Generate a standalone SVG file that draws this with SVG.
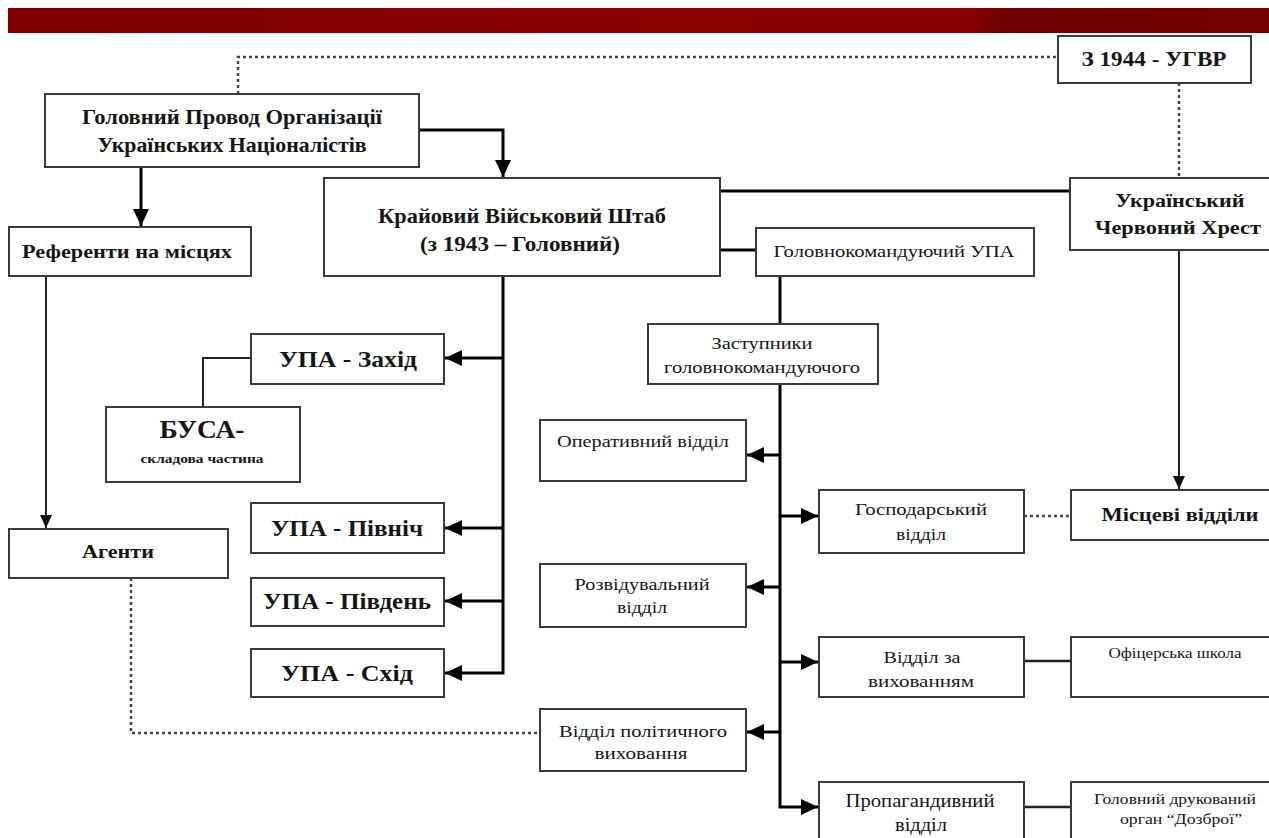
<svg xmlns="http://www.w3.org/2000/svg" width="1269" height="838" viewBox="0 0 1269 838">
<defs>
<linearGradient id="bar" x1="0" y1="0" x2="1" y2="0">
<stop offset="0" stop-color="#7c0000"/>
<stop offset="0.55" stop-color="#8a0101"/>
<stop offset="0.76" stop-color="#880000"/>
<stop offset="0.79" stop-color="#6c0000"/>
<stop offset="1" stop-color="#760000"/>
</linearGradient>
<marker id="ah" markerUnits="userSpaceOnUse" markerWidth="18" markerHeight="16" refX="17" refY="8" orient="auto">
<path d="M0,0 L17,8 L0,16 z" fill="#000"/>
</marker>
<marker id="ahs" markerUnits="userSpaceOnUse" markerWidth="14" markerHeight="12" refX="13" refY="6" orient="auto">
<path d="M0,0 L13,6 L0,12 z" fill="#111"/>
</marker>
<style>
.box{fill:#fff;stroke:#3a3a3a;stroke-width:2}
.t{font-family:"Liberation Serif","Times New Roman",serif;fill:#161616;text-anchor:middle}
.b{font-weight:bold}
.thick{fill:none;stroke:#000;stroke-width:3}
.thin{fill:none;stroke:#222;stroke-width:2}
.dot{fill:none;stroke:#444;stroke-width:2.5;stroke-dasharray:3 3}
</style>
</defs>
<rect x="0" y="0" width="1269" height="838" fill="#fff"/>
<rect x="8" y="8" width="1261" height="25" fill="url(#bar)"/>

<g id="connectors">
<path class="dot" d="M238,94 V57 H1058"/>
<path class="dot" d="M1179,83 V178"/>
<path class="thick" d="M419,130 H503 V177" marker-end="url(#ah)"/>
<path class="thick" d="M141,167 V226" marker-end="url(#ah)"/>
<path class="thin" d="M46,276 V528" marker-end="url(#ahs)"/>
<path class="dot" d="M131,578 V733 H540"/>
<path class="thick" d="M720,191 H1070"/>
<path class="thick" d="M720,250 H756"/>
<path class="thick" d="M503,276 V673 H445" marker-end="url(#ah)"/>
<path class="thick" d="M503,358 H445" marker-end="url(#ah)"/>
<path class="thick" d="M503,528 H445" marker-end="url(#ah)"/>
<path class="thick" d="M503,601 H445" marker-end="url(#ah)"/>
<path class="thin" d="M251,358 H203 V407"/>
<path class="thick" d="M780,276 V324"/>
<path class="thick" d="M780,384 V807 H818" marker-end="url(#ah)"/>
<path class="thick" d="M780,455 H747" marker-end="url(#ah)"/>
<path class="thick" d="M780,516 H818" marker-end="url(#ah)"/>
<path class="thick" d="M780,587 H747" marker-end="url(#ah)"/>
<path class="thick" d="M780,662 H818" marker-end="url(#ah)"/>
<path class="thick" d="M780,732 H747" marker-end="url(#ah)"/>
<path class="thin" d="M1179,250 V489" marker-end="url(#ahs)"/>
<path class="dot" d="M1024,516 H1071"/>
<path class="thin" d="M1024,661 H1071" style="stroke-width:2.5"/>
<path class="thin" d="M1024,807 H1071" style="stroke-width:2.5"/>
</g>

<g id="n-ugvr"><rect class="box" x="1058" y="36" width="193" height="47"/>
<text class="t b" x="1154" y="66" font-size="22" textLength="145" lengthAdjust="spacingAndGlyphs">З 1944 - УГВР</text></g>

<g id="n-provod"><rect class="box" x="45" y="94" width="374" height="73"/>
<text class="t b" x="232" y="124" font-size="21" textLength="300" lengthAdjust="spacingAndGlyphs">Головний Провод Організації</text>
<text class="t b" x="232" y="152" font-size="21" textLength="269" lengthAdjust="spacingAndGlyphs">Українських Націоналістів</text></g>

<g id="n-referenty"><rect class="box" x="9" y="227" width="242" height="49"/>
<text class="t b" x="127" y="258" font-size="19" textLength="210" lengthAdjust="spacingAndGlyphs">Референти на місцях</text></g>

<g id="n-kvsh"><rect class="box" x="324" y="178" width="396" height="98"/>
<text class="t b" x="522" y="223" font-size="21" textLength="288" lengthAdjust="spacingAndGlyphs">Крайовий Військовий Штаб</text>
<text class="t b" x="520" y="251" font-size="21" textLength="200" lengthAdjust="spacingAndGlyphs">(з 1943 – Головний)</text></g>

<g id="n-uchh"><rect class="box" x="1070" y="178" width="205" height="72"/>
<text class="t b" x="1180" y="207" font-size="19" textLength="129" lengthAdjust="spacingAndGlyphs">Український</text>
<text class="t b" x="1178" y="234" font-size="19" textLength="166" lengthAdjust="spacingAndGlyphs">Червоний Хрест</text></g>

<g id="n-golovkom"><rect class="box" x="756" y="228" width="278" height="48"/>
<text class="t" x="894" y="257" font-size="16" textLength="241" lengthAdjust="spacingAndGlyphs">Головнокомандуючий УПА</text></g>

<g id="n-zastupnyky"><rect class="box" x="648" y="324" width="230" height="60"/>
<text class="t" x="762" y="349" font-size="16" textLength="101" lengthAdjust="spacingAndGlyphs">Заступники</text>
<text class="t" x="762" y="373" font-size="16" textLength="196" lengthAdjust="spacingAndGlyphs">головнокомандуючого</text></g>

<g id="n-zakhid"><rect class="box" x="251" y="334" width="193" height="50"/>
<text class="t b" x="348" y="367" font-size="23" textLength="138" lengthAdjust="spacingAndGlyphs">УПА - Захід</text></g>

<g id="n-busa"><rect class="box" x="106" y="407" width="194" height="75"/>
<text class="t b" x="202" y="438" font-size="25" textLength="85" lengthAdjust="spacingAndGlyphs">БУСА-</text>
<text class="t b" x="202" y="463" font-size="13" textLength="123" lengthAdjust="spacingAndGlyphs">складова частина</text></g>

<g id="n-operat"><rect class="box" x="540" y="420" width="206" height="61"/>
<text class="t" x="643" y="447" font-size="16" textLength="172" lengthAdjust="spacingAndGlyphs">Оперативний відділ</text></g>

<g id="n-gosp"><rect class="box" x="819" y="490" width="205" height="63"/>
<text class="t" x="921" y="515" font-size="16" textLength="132" lengthAdjust="spacingAndGlyphs">Господарський</text>
<text class="t" x="921" y="540" font-size="16" textLength="50" lengthAdjust="spacingAndGlyphs">відділ</text></g>

<g id="n-mistsevi"><rect class="box" x="1071" y="490" width="205" height="50"/>
<text class="t b" x="1180" y="521" font-size="19" textLength="157" lengthAdjust="spacingAndGlyphs">Місцеві відділи</text></g>

<g id="n-agenty"><rect class="box" x="9" y="529" width="219" height="49"/>
<text class="t b" x="118" y="558" font-size="19" textLength="72" lengthAdjust="spacingAndGlyphs">Агенти</text></g>

<g id="n-pivnich"><rect class="box" x="251" y="503" width="193" height="50"/>
<text class="t b" x="347" y="536" font-size="23" textLength="152" lengthAdjust="spacingAndGlyphs">УПА - Північ</text></g>

<g id="n-rozvid"><rect class="box" x="540" y="564" width="206" height="63"/>
<text class="t" x="642" y="590" font-size="16" textLength="135" lengthAdjust="spacingAndGlyphs">Розвідувальний</text>
<text class="t" x="642" y="613" font-size="16" textLength="50" lengthAdjust="spacingAndGlyphs">відділ</text></g>

<g id="n-pivden"><rect class="box" x="251" y="578" width="193" height="48"/>
<text class="t b" x="347" y="609" font-size="23" textLength="168" lengthAdjust="spacingAndGlyphs">УПА - Південь</text></g>

<g id="n-skhid"><rect class="box" x="251" y="649" width="193" height="48"/>
<text class="t b" x="347" y="681" font-size="23" textLength="132" lengthAdjust="spacingAndGlyphs">УПА - Схід</text></g>

<g id="n-vykhovannia"><rect class="box" x="819" y="637" width="205" height="60"/>
<text class="t" x="922" y="663" font-size="17" textLength="77" lengthAdjust="spacingAndGlyphs">Відділ за</text>
<text class="t" x="921" y="687" font-size="17" textLength="106" lengthAdjust="spacingAndGlyphs">вихованням</text></g>

<g id="n-ofitserska"><rect class="box" x="1071" y="637" width="205" height="60"/>
<text class="t" x="1175" y="658" font-size="14" textLength="133" lengthAdjust="spacingAndGlyphs">Офіцерська школа</text></g>

<g id="n-polit"><rect class="box" x="540" y="709" width="206" height="62"/>
<text class="t" x="643" y="737" font-size="17" textLength="168" lengthAdjust="spacingAndGlyphs">Відділ політичного</text>
<text class="t" x="641" y="759" font-size="17" textLength="93" lengthAdjust="spacingAndGlyphs">виховання</text></g>

<g id="n-propag"><rect class="box" x="819" y="782" width="205" height="62"/>
<text class="t" x="920" y="807" font-size="18" textLength="149" lengthAdjust="spacingAndGlyphs">Пропагандивний</text>
<text class="t" x="921" y="831" font-size="18" textLength="52" lengthAdjust="spacingAndGlyphs">відділ</text></g>

<g id="n-drukovanyi"><rect class="box" x="1071" y="782" width="205" height="62"/>
<text class="t" x="1175" y="804" font-size="14" textLength="162" lengthAdjust="spacingAndGlyphs">Головний друкований</text>
<text class="t" x="1181" y="824" font-size="14" textLength="122" lengthAdjust="spacingAndGlyphs">орган “Дозброї”</text></g>
</svg>
